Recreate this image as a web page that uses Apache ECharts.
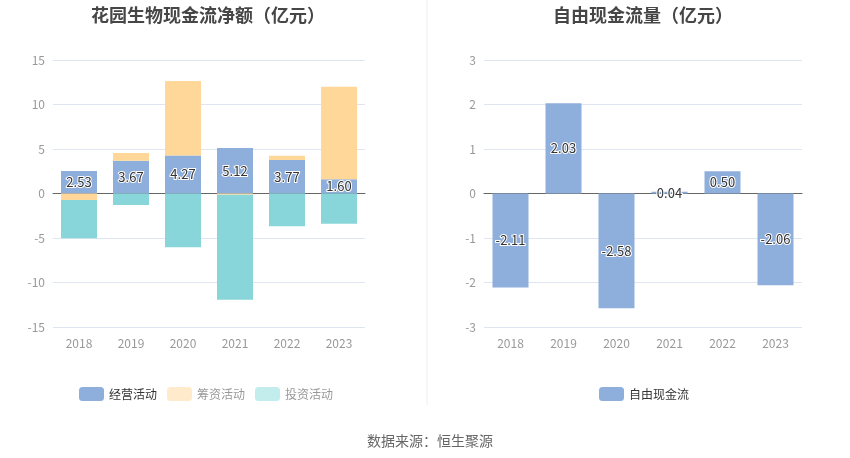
<!DOCTYPE html>
<html><head><meta charset="utf-8">
<script src="https://cdn.jsdelivr.net/npm/echarts@6/dist/echarts.min.js"></script>
<style>html,body{margin:0;padding:0;background:#fff}#c{width:850px;height:458px}</style>
</head><body><div id="c"></div>
<script>
const years = ['2018','2019','2020','2021','2022','2023'];
const operating = [2.53, 3.67, 4.27, 5.12, 3.77, 1.60];
const financing = [-0.73, 0.88, 8.37, -0.15, 0.48, 10.4];
const investing = [-4.3, -1.29, -6.05, -11.8, -3.69, -3.39];
const freeCash = [-2.11, 2.03, -2.58, 0.04, 0.50, -2.06];

const blue = '#8eaedb', orange = '#ffd899', teal = '#88d6d9';
const lbl = {show:true, position:'inside', color:'#333', fontSize:13, textBorderColor:'#fff', textBorderWidth:2, formatter: p => p.value.toFixed(2)};
const ff = '"Noto Sans CJK SC", "Noto Sans", sans-serif';

const chart = echarts.init(document.getElementById('c'));
chart.setOption({
  animation:false,
  textStyle:{fontFamily:ff},
  title:[
    {text:'花园生物现金流净额（亿元）', left:203, top:1, textAlign:'center', textStyle:{fontSize:18, fontWeight:'bold', color:'#464646'}},
    {text:'自由现金流量（亿元）', left:638, top:1, textAlign:'center', textStyle:{fontSize:18, fontWeight:'bold', color:'#464646'}},
    {text:'数据来源：恒生聚源', left:425, top:429, textAlign:'center', textStyle:{fontSize:14, fontWeight:'normal', color:'#666'}}
  ],
  graphic:[{type:'line', shape:{x1:427, y1:0, x2:427, y2:405}, style:{stroke:'#eeeeee', lineWidth:1}}],
  legend:[
    {left:74, top:382, itemWidth:25, itemHeight:14, itemGap:10, textStyle:{fontSize:12},
      data:[
        {name:'经营活动', itemStyle:{color:blue}, textStyle:{color:'#333'}},
        {name:'筹资活动', itemStyle:{color:'#ffebcc'}, textStyle:{color:'#999'}},
        {name:'投资活动', itemStyle:{color:'#c3ecec'}, textStyle:{color:'#999'}}
      ]},
    {left:594, top:382, itemWidth:25, itemHeight:14, textStyle:{fontSize:12, color:'#333'}, data:[{name:'自由现金流', itemStyle:{color:blue}}]}
  ],
  grid:[
    {left:53, right:485, top:60, bottom:131},
    {left:484, right:48, top:60, bottom:131}
  ],
  xAxis:[0,1].map(i=>({type:'category', gridIndex:i, data:years,
    axisLine:{lineStyle:{color:'#666'}}, axisTick:{alignWithLabel:true, lineStyle:{color:'#666'}},
    axisLabel:{color:'#999', fontSize:12, margin:10}})),
  yAxis:[
    {type:'value', gridIndex:0, min:-15, max:15, interval:5, axisLabel:{color:'#999', fontSize:12}, splitLine:{lineStyle:{color:'#e0e6f1'}}},
    {type:'value', gridIndex:1, min:-3, max:3, interval:1, axisLabel:{color:'#999', fontSize:12}, splitLine:{lineStyle:{color:'#e0e6f1'}}}
  ],
  series:[
    {name:'经营活动', type:'bar', stack:'a', barWidth:36, data:operating, itemStyle:{color:blue}, label:lbl},
    {name:'筹资活动', type:'bar', stack:'a', barWidth:36, data:financing, itemStyle:{color:orange}},
    {name:'投资活动', type:'bar', stack:'a', barWidth:36, data:investing, itemStyle:{color:teal}},
    {name:'自由现金流', type:'bar', xAxisIndex:1, yAxisIndex:1, barWidth:36, data:freeCash, itemStyle:{color:blue}, label:lbl}
  ]
});
</script></body></html>
